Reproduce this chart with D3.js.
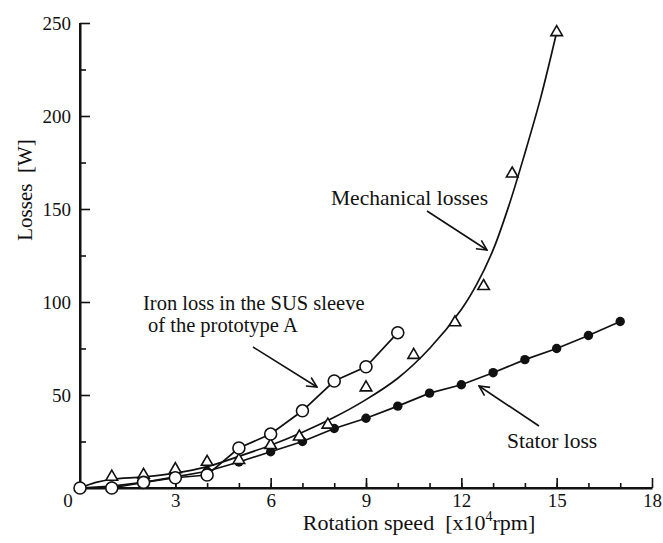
<!DOCTYPE html>
<html><head><meta charset="utf-8">
<script src="https://cdn.jsdelivr.net/npm/d3@7"></script>
<style>body{margin:0;background:#fff}svg{display:block}text{font-family:"Liberation Serif","DejaVu Serif",serif;fill:#111;white-space:pre}</style>
</head><body>
<svg id="c" width="663" height="543"></svg>
<script>
// Data (x in 10^4 rpm, y in W)
const statorX = [0,1,2,3,4,5,6,7,8,9,10,11,12,13,14,15,16,17];
const statorY = [0,1,3,6,9,14,19.5,25,32,37.5,44,51,55.5,62,69,75,82,89.5];
const ironX = [0,1,2,3,4,5,6,7,8,9,10];
const ironY = [0,0,3,5.5,7,21.5,29,41.5,57.5,65.2,83.5];
const mechX = [1,2,3,4,5,6,6.9,7.8,9,10.5,11.8,12.7,13.6,15];
const mechY = [6,7,10,14,15,23,27.6,34,54,71.5,89,108.5,169,245];
const mechFitX = [0,0.5,1,2,3,4,5,6,7,8,9,10,11,12,12.5,13,13.5,14,14.5,15];
const mechFitY = [0,3,4.7,6,8,11.5,17,23,30,38,47.5,59,75,96,110,128,152,180,210,245];
const xMajor = [3,6,9,12,15,18];
const xMinor = d3.range(1,18);
const yMajor = [50,100,150,200,250];
const yMinor = [25,75,125,175,225];

const svg = d3.select("#c");
const x = d3.scaleLinear().domain([0,18]).range([80,652]);
const y = d3.scaleLinear().domain([0,250]).range([488,23]);

// axes
const gx = svg.append("g").attr("transform","translate(0,488)");
gx.call(d3.axisBottom(x).tickValues(xMinor).tickSizeInner(-5).tickSizeOuter(0).tickFormat(""));
gx.call(g=>g.selectAll(".domain").remove());
const gx2 = svg.append("g").attr("transform","translate(0,488)");
gx2.call(d3.axisBottom(x).tickValues(xMajor).tickSizeInner(-10).tickSizeOuter(0).tickPadding(6));
const gy = svg.append("g").attr("transform","translate(80,0)");
gy.call(d3.axisLeft(y).tickValues(yMinor).tickSizeInner(-6).tickSizeOuter(0).tickFormat(""));
gy.call(g=>g.selectAll(".domain").remove());
const gy2 = svg.append("g").attr("transform","translate(80,0)");
gy2.call(d3.axisLeft(y).tickValues(yMajor).tickSizeInner(-10).tickSizeOuter(0).tickPadding(9));
svg.selectAll(".domain").attr("stroke","#111").attr("stroke-width",2);
svg.selectAll(".tick line").attr("stroke","#111").attr("stroke-width",1.6);
svg.selectAll(".tick text").attr("font-family","Liberation Serif").attr("font-size",19).attr("fill","#111");
svg.append("line").attr("x1",x(0)).attr("x2",x(0)).attr("y1",y(0)).attr("y2",y(250)).attr("stroke","#111").attr("stroke-width",2);
svg.append("line").attr("x1",x(0)).attr("x2",x(18)).attr("y1",y(0)).attr("y2",y(0)).attr("stroke","#111").attr("stroke-width",2);
svg.append("text").attr("x",x(0)-12).attr("y",y(0)+19).attr("text-anchor","middle").attr("font-size",19).text("0");

// axis titles
svg.append("text").attr("transform","translate(32,190) rotate(-90)").attr("text-anchor","middle").attr("font-size",21).text("Losses  [W]");
const xt = svg.append("text").attr("x",419).attr("y",530).attr("text-anchor","middle").attr("font-size",22);
xt.append("tspan").text("Rotation speed  [x10");
xt.append("tspan").attr("dy",-9).attr("font-size",14).text("4");
xt.append("tspan").attr("dy",9).text("rpm]");

// lines
const pts = (X,Y)=>X.map((v,i)=>[v,Y[i]]);
const lin = d3.line().x(d=>x(d[0])).y(d=>y(d[1]));
const smooth = d3.line().x(d=>x(d[0])).y(d=>y(d[1])).curve(d3.curveCatmullRom.alpha(0.5));
const stroke = (p)=>p.attr("fill","none").attr("stroke","#111").attr("stroke-width",1.7);
stroke(svg.append("path").attr("d",lin(pts(statorX,statorY))));
stroke(svg.append("path").attr("d",smooth(pts(mechFitX,mechFitY))));
stroke(svg.append("path").attr("d",lin(pts(ironX,ironY))));

// markers
svg.append("g").selectAll("circle").data(pts(statorX,statorY).slice(1)).join("circle")
  .attr("cx",d=>x(d[0])).attr("cy",d=>y(d[1])).attr("r",4.7).attr("fill","#111");
const tri = d3.symbol().type(d3.symbolTriangle).size(58);
svg.append("g").selectAll("path").data(pts(mechX,mechY)).join("path")
  .attr("transform",d=>`translate(${x(d[0])},${y(d[1])})`).attr("d",tri)
  .attr("fill","#fff").attr("stroke","#111").attr("stroke-width",1.6);
svg.append("g").selectAll("circle").data(pts(ironX,ironY)).join("circle")
  .attr("cx",d=>x(d[0])).attr("cy",d=>y(d[1])).attr("r",6).attr("fill","#fff").attr("stroke","#111").attr("stroke-width",1.6);

// annotations
svg.append("defs").append("marker").attr("id","ah").attr("viewBox","0 0 12 12").attr("refX",11).attr("refY",6)
  .attr("markerWidth",12).attr("markerHeight",12).attr("markerUnits","userSpaceOnUse").attr("orient","auto")
  .append("path").attr("d","M1,1 L11,6 L1,11").attr("fill","none").attr("stroke","#111").attr("stroke-width",1.6);
const arrow=(x1,y1,x2,y2)=>svg.append("line").attr("x1",x1).attr("y1",y1).attr("x2",x2).attr("y2",y2)
  .attr("stroke","#111").attr("stroke-width",1.6).attr("marker-end","url(#ah)");
svg.append("text").attr("x",331).attr("y",205).attr("font-size",21.5).text("Mechanical losses");
arrow(427,211,487,250);
svg.append("text").attr("x",143).attr("y",310).attr("font-size",20.5).text("Iron loss in the SUS sleeve");
svg.append("text").attr("x",148).attr("y",332).attr("font-size",20.5).text("of the prototype A");
arrow(253,347,317,387);
svg.append("text").attr("x",507).attr("y",448).attr("font-size",21.5).text("Stator loss");
arrow(539,426,479,386);
</script>
</body></html>
